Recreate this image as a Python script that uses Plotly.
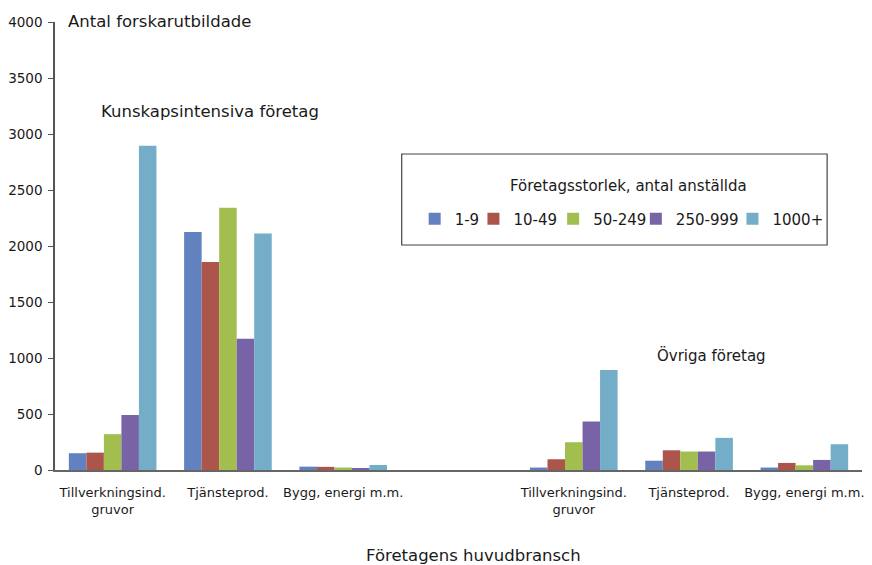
import plotly.graph_objects as go

sizes = ["1-9", "10-49", "50-249", "250-999", "1000+"]
categories = ["Tillverkningsind.<br>gruvor", "Tjänsteprod.", "Bygg, energi m.m.", "",
              "Tillverkningsind.<br>gruvor", "Tjänsteprod.", "Bygg, energi m.m."]
positions = [0, 1, 2, 3, 4, 5, 6]

v_1_9 = [150, 2125, 30, None, 22, 83, 22]
v_10_49 = [155, 1858, 28, None, 96, 176, 63]
v_50_249 = [320, 2341, 22, None, 248, 165, 42]
v_250_999 = [490, 1171, 18, None, 433, 165, 90]
v_1000 = [2895, 2112, 45, None, 893, 287, 230]
series = [v_1_9, v_10_49, v_50_249, v_250_999, v_1000]
colors = ["#6182bf", "#ac564b", "#a2be4f", "#7763a6", "#73adc7"]

y_ticks = [0, 500, 1000, 1500, 2000, 2500, 3000, 3500, 4000]

FONT = "DejaVu Sans"
TXT = "#1a1a1a"

# plot area geometry in pixels (for paper-coordinate placement of text)
L, R, T, B = 54, 8, 22, 95
PW, PH = 872 - L - R, 565 - T - B


def px(x):
    return (x - L) / PW


def py(y):
    return (565 - B - y) / PH


legend_ids = ["legend", "legend2", "legend3", "legend4", "legend5"]
legend_left_px = [415, 474, 554, 637, 734]

fig = go.Figure()
for name, vals, col, lid in zip(sizes, series, colors, legend_ids):
    fig.add_trace(go.Bar(x=positions, y=vals, name=name, marker_color=col,
                         marker_line_width=0, legend=lid))

legend_layout = {}
for lid, lx in zip(legend_ids, legend_left_px):
    legend_layout[lid] = dict(
        orientation="h", x=px(lx), xanchor="left", y=py(219), yanchor="middle",
        font=dict(family=FONT, size=15, color=TXT),
        bgcolor="rgba(0,0,0,0)", borderwidth=0,
    )

fig.update_layout(
    width=872, height=565,
    margin=dict(l=L, r=R, t=T, b=B),
    paper_bgcolor="white", plot_bgcolor="white",
    barmode="group", bargap=0.24, bargroupgap=0,
    font=dict(family=FONT, size=13, color=TXT),
    showlegend=True,
    xaxis=dict(
        range=[-0.5, 6.5], tickmode="array", tickvals=positions, ticktext=categories,
        showline=True, linecolor="#666", linewidth=1.5, showgrid=False, zeroline=False,
        ticks="outside", ticklen=10, tickcolor="rgba(0,0,0,0)",
        tickfont=dict(family=FONT, size=13, color=TXT),
    ),
    yaxis=dict(
        range=[0, 4000], tickmode="array", tickvals=y_ticks,
        showline=True, linecolor="#555", linewidth=1.5, showgrid=False, zeroline=False,
        ticks="outside", ticklen=5, tickcolor="#555", ticklabelstandoff=3,
        tickfont=dict(family=FONT, size=13.5, color=TXT),
    ),
    shapes=[dict(type="rect", xref="paper", yref="paper",
                 x0=px(402), x1=px(829), y0=py(245), y1=py(154),
                 line=dict(color="#444", width=1.2), fillcolor="rgba(0,0,0,0)")],
    annotations=[
        dict(text="Företagsstorlek, antal anställda", xref="paper", yref="paper",
             x=px(630), y=py(186), xanchor="center", yanchor="middle",
             showarrow=False, font=dict(family=FONT, size=15, color=TXT)),
        dict(text="Antal forskarutbildade", xref="paper", yref="paper",
             x=px(65), y=py(21), xanchor="left", yanchor="middle",
             showarrow=False, font=dict(family=FONT, size=16.5, color=TXT)),
        dict(text="Kunskapsintensiva företag", xref="paper", yref="paper",
             x=px(98), y=py(112), xanchor="left", yanchor="middle",
             showarrow=False, font=dict(family=FONT, size=16.5, color=TXT)),
        dict(text="Övriga företag", xref="paper", yref="paper",
             x=px(656), y=py(355), xanchor="left", yanchor="middle",
             showarrow=False, font=dict(family=FONT, size=15, color=TXT)),
        dict(text="Företagens huvudbransch", xref="paper", yref="paper",
             x=px(474), y=py(555), xanchor="center", yanchor="middle",
             showarrow=False, font=dict(family=FONT, size=16.5, color=TXT)),
    ],
    **legend_layout,
)

fig.write_html("out.html", config={"displayModeBar": False},
               post_script="document.body.style.margin='0';")
